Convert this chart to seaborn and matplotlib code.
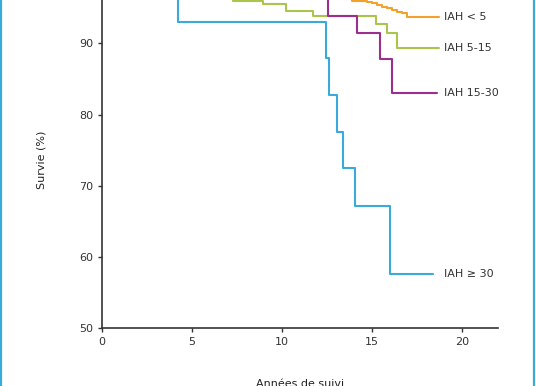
import matplotlib
matplotlib.use("Agg")
import matplotlib.pyplot as plt
import matplotlib.lines as mlines
import numpy as np
import pandas as pd
import seaborn as sns

# Kaplan-Meier style survival curves
groups = ['IAH < 5', 'IAH 5-15', 'IAH 15-30', 'IAH ≥ 30']

t_lt5 = [0, 13.87, 14.71, 15.0, 15.28, 15.56, 15.83, 16.11, 16.39, 16.67, 16.96, 18.75]
s_lt5 = [100, 96.0, 95.84, 95.61, 95.38, 95.14, 94.91, 94.67, 94.44, 94.2, 93.73, 93.73]

t_5_15 = [0, 7.29, 8.96, 10.22, 11.74, 15.25, 15.83, 16.39, 18.75]
s_5_15 = [100, 96.0, 95.5, 94.6, 93.9, 92.7, 91.4, 89.4, 89.4]

t_15_30 = [0, 12.53, 14.15, 15.46, 16.09, 18.6]
s_15_30 = [100, 93.9, 91.4, 87.8, 83.0, 83.0]

t_ge30 = [0, 4.22, 12.44, 12.63, 13.04, 13.41, 14.07, 16.0, 18.37]
s_ge30 = [100, 93.0, 87.9, 82.7, 77.6, 72.5, 67.2, 57.6, 57.6]

palette = {'IAH < 5': '#f2a22a', 'IAH 5-15': '#a9c64a',
           'IAH 15-30': '#9c2f8e', 'IAH ≥ 30': '#3aaadb'}

times = [t_lt5, t_5_15, t_15_30, t_ge30]
survs = [s_lt5, s_5_15, s_15_30, s_ge30]

df = pd.concat([pd.DataFrame({'annees': t, 'survie': s, 'groupe': g})
                for g, t, s in zip(groups, times, survs)], ignore_index=True)

sns.set_style('ticks')
plt.rcParams['font.family'] = ['DejaVu Sans']

fig = plt.figure(figsize=(5.36, 3.86), dpi=100)
# top of the axes runs past the figure edge, as in the cropped original
ax = fig.add_axes([0.1903, 0.1495, 0.7388, 0.9229])

for g in groups:
    sub = df[df['groupe'] == g]
    sns.lineplot(x='annees', y='survie', data=sub, color=palette[g], ax=ax,
                 estimator=None, sort=False, drawstyle='steps-post', linewidth=1.5)
    ax.text(19.0, sub['survie'].iloc[-1], g, fontsize=8, color='#333333',
            va='center', ha='left')

ax.set_xlim(0, 22)
ax.set_ylim(50, 100)
ax.set_xticks([0, 5, 10, 15, 20])
ax.set_yticks([50, 60, 70, 80, 90])
ax.tick_params(labelsize=8, colors='#333333', length=3, width=1)
ax.set_xlabel('Années de suivi', fontsize=8, color='#222222')
ax.set_ylabel('Survie (%)', fontsize=8, color='#222222')
ax.xaxis.set_label_coords(0.5, -0.142)
ax.yaxis.set_label_coords(-0.14, 0.4724)
sns.despine(ax=ax)
for side in ['left', 'bottom']:
    ax.spines[side].set_color('#333333')
    ax.spines[side].set_linewidth(1.2)

# thin blue frame at the page edges
fig.add_artist(mlines.Line2D([0.002, 0.002], [0, 1], color='#3aaadb', lw=1.6))
fig.add_artist(mlines.Line2D([0.996, 0.996], [0, 1], color='#3aaadb', lw=1.6))

fig.savefig('out.png', dpi=100)
